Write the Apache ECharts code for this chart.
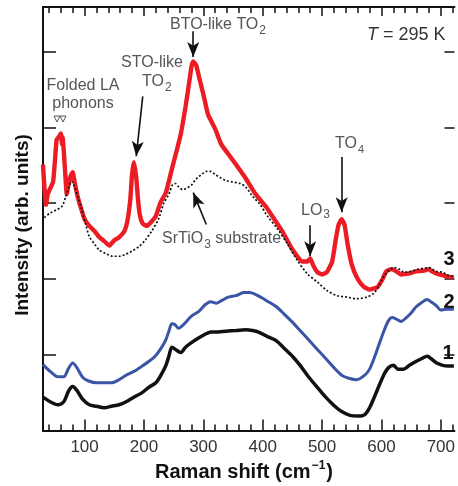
<!DOCTYPE html>
<html>
<head>
<meta charset="utf-8">
<script src="https://cdn.jsdelivr.net/npm/echarts@6/dist/echarts.min.js"></script>
<style>
  html, body { margin: 0; padding: 0; background: #fff; }
  #chart { width: 458px; height: 486px; }
</style>
</head>
<body>
<div id="chart"></div>
<script>
// Raman shift tick positions (cm^-1)
const majorTicks = [100, 200, 300, 400, 500, 600, 700];
const minorTicks = [40, 60, 80, 120, 140, 160, 180, 220, 240, 260, 280, 320, 340, 360, 380,
  420, 440, 460, 480, 520, 540, 560, 580, 620, 640, 660, 680, 720];
const intensityTicks = [100, 200, 300, 400, 500];

// Spectrum 3 (film, red), offset vertically
const film3Shift = [30, 32, 35, 38, 43, 47, 50, 53, 57, 60, 62, 63, 67, 70, 73, 77, 80, 83, 88, 93,
  100, 108, 117, 125, 133, 142, 150, 158, 167, 172, 177, 180, 183, 187, 190, 193, 198, 205, 213, 220,
  228, 237, 247, 255, 262, 270, 275, 280, 283, 288, 293, 300, 308, 320, 330, 342, 355, 372, 388, 405,
  422, 433, 450, 467, 475, 480, 485, 492, 500, 508, 517, 523, 528, 533, 538, 543, 550, 560, 570, 580,
  593, 602, 608, 617, 625, 633, 645, 658, 672, 680, 685, 693, 702, 712, 722];
const film3Counts = [351, 325, 298, 312, 321, 328, 355, 384, 388, 392, 378, 387, 345, 312, 325, 337, 341, 329, 310, 296,
  279, 270, 263, 255, 250, 244, 251, 255, 263, 276, 305, 338, 354, 334, 305, 285, 273, 270, 276, 283,
  301, 314, 345, 369, 391, 427, 453, 480, 487, 482, 466, 444, 417, 398, 378, 365, 351, 332, 312, 296,
  276, 263, 239, 223, 223, 227, 218, 209, 206, 209, 223, 252, 272, 279, 271, 246, 219, 200, 190, 186,
  189, 200, 210, 213, 210, 206, 207, 210, 211, 213, 210, 207, 205, 203, 202];

// SrTiO3 substrate reference (dotted)
const substrateShift = [32, 42, 52, 62, 68, 75, 78, 83, 88, 95, 102, 108, 117, 125, 137, 147, 158, 170, 180, 192,
  203, 213, 225, 233, 242, 248, 253, 258, 265, 272, 280, 288, 297, 305, 312, 320, 328, 338, 350, 362,
  372, 383, 395, 408, 425, 442, 458, 475, 492, 508, 525, 542, 558, 575, 587, 595, 603, 612, 622, 630,
  638, 650, 662, 672, 680, 692, 702, 712, 722];
const substrateCounts = [281, 287, 291, 296, 308, 324, 329, 322, 310, 292, 272, 256, 246, 238, 233, 230, 230, 233, 237, 243,
  252, 263, 280, 299, 312, 324, 326, 322, 318, 320, 324, 332, 338, 342, 342, 338, 334, 330, 328, 326,
  321, 309, 299, 283, 266, 246, 225, 207, 196, 185, 178, 176, 174, 176, 181, 190, 202, 211, 215, 213,
  209, 210, 213, 214, 215, 210, 209, 205, 203];

// Spectrum 2 (blue)
const film2Shift = [30, 42, 55, 65, 73, 80, 87, 97, 108, 120, 133, 145, 158, 170, 183, 197, 208, 220, 230, 237,
  242, 247, 252, 258, 267, 280, 292, 303, 312, 322, 332, 342, 355, 368, 378, 392, 405, 422, 437, 450,
  463, 477, 492, 505, 520, 533, 545, 558, 572, 580, 588, 597, 605, 612, 618, 625, 633, 642, 650, 658,
  668, 677, 683, 692, 700, 708, 722];
const film2Counts = [87, 78, 71, 71, 82, 89, 83, 70, 65, 63, 63, 63, 67, 73, 78, 85, 91, 99, 110, 120,
  131, 141, 140, 135, 140, 151, 157, 166, 170, 168, 172, 176, 178, 182, 182, 178, 172, 164, 153, 143,
  132, 120, 107, 96, 83, 73, 69, 67, 73, 81, 96, 116, 133, 145, 149, 147, 144, 149, 155, 163,
  169, 173, 170, 165, 159, 160, 160];

// Spectrum 1 (black)
const film1Shift = [30, 42, 55, 65, 73, 80, 87, 97, 108, 120, 133, 145, 158, 170, 183, 197, 208, 220, 230, 237,
  242, 247, 253, 262, 270, 280, 292, 303, 313, 325, 338, 355, 372, 383, 393, 408, 422, 437, 450, 463,
  477, 492, 505, 520, 533, 547, 560, 572, 580, 588, 597, 605, 612, 620, 628, 637, 647, 658, 668, 677,
  685, 693, 703, 712, 722];
const film1Counts = [44, 38, 34, 38, 52, 58, 53, 41, 34, 32, 30, 32, 34, 38, 44, 50, 57, 63, 75, 86,
  98, 110, 107, 103, 110, 116, 122, 127, 130, 130, 131, 132, 133, 132, 130, 124, 119, 108, 98, 86,
  71, 57, 45, 33, 25, 20, 19, 21, 30, 44, 61, 75, 83, 86, 81, 81, 86, 91, 95, 98,
  94, 89, 86, 85, 85];

// Arrows: [from, to] in (shift, intensity)
const arrows = [
  [[283, 527], [283, 493]],   // BTO-like TO2
  [[198, 441], [187, 362]],   // STO-like TO2
  [[533, 361], [533, 288]],   // TO4
  [[480, 271], [480, 230]],   // LO3
  [[305, 272], [283, 314]]    // substrate
];

const zip = (xs, ys) => xs.map((x, i) => [x, ys[i]]);

const X_MIN = 30, X_MAX = 723, Y_MIN = 0, Y_MAX = 559;
const axisColor = '#111';
const textGray = '#555';
const sans = 'Liberation Sans, Arial, sans-serif';

function xAxisDef(position, ticks, len, withLine, withLabels) {
  return {
    type: 'value', position: position, min: X_MIN, max: X_MAX,
    axisLine: { show: withLine, lineStyle: { color: axisColor, width: 2 } },
    axisTick: { show: true, inside: true, length: len, customValues: ticks,
      lineStyle: { color: axisColor, width: 1.5 } },
    axisLabel: withLabels ? {
      show: true, customValues: ticks, margin: 8,
      fontFamily: 'Liberation Sans Narrow, Liberation Sans, Arial, sans-serif',
      fontSize: 17, color: '#333'
    } : { show: false },
    splitLine: { show: false }
  };
}
function yAxisDef(position, len, withLine) {
  return {
    type: 'value', position: position, min: Y_MIN, max: Y_MAX,
    axisLine: { show: withLine, lineStyle: { color: axisColor, width: 2 } },
    axisTick: { show: true, inside: true, length: len, customValues: intensityTicks,
      lineStyle: { color: axisColor, width: 1.5 } },
    axisLabel: { show: false },
    splitLine: { show: false }
  };
}

const chart = echarts.init(document.getElementById('chart'), null, { renderer: 'canvas' });

const option = {
  backgroundColor: '#fff',
  animation: false,
  grid: { left: 43, top: 7, width: 416, height: 423.5, containLabel: false },
  xAxis: [
    xAxisDef('bottom', majorTicks, 11, true, true),
    xAxisDef('bottom', minorTicks, 6, false, false),
    xAxisDef('top', majorTicks, 9, true, false),
    xAxisDef('top', minorTicks, 6, false, false)
  ],
  yAxis: [yAxisDef('left', 13, true), yAxisDef('right', 10, false)],
  series: [
    {
      name: 'film 1', type: 'line', data: zip(film1Shift, film1Counts),
      showSymbol: false, smooth: 0.3, z: 3,
      lineStyle: { color: '#111', width: 3.5 }
    },
    {
      name: 'film 2', type: 'line', data: zip(film2Shift, film2Counts),
      showSymbol: false, smooth: 0.3, z: 3,
      lineStyle: { color: '#3b55a6', width: 3 }
    },
    {
      name: 'film 3', type: 'line', data: zip(film3Shift, film3Counts),
      showSymbol: false, smooth: 0.15, z: 3,
      lineStyle: { color: '#ec1c24', width: 4.4 }
    },
    {
      name: 'SrTiO3 substrate', type: 'line', data: zip(substrateShift, substrateCounts),
      showSymbol: false, smooth: 0.3, z: 4,
      lineStyle: { color: '#111', width: 1.7, type: [2, 2] },
      markLine: {
        silent: true, animation: false,
        label: { show: false },
        lineStyle: { color: '#111', width: 1.6, type: 'solid' },
        symbolSize: [9, 15],
        data: arrows.map(a => [
          { coord: a[0], symbol: 'none' },
          { coord: a[1], symbol: 'arrow' }
        ])
      }
    }
  ],
  graphic: [
    // annotation texts
    { type: 'text', style: { x: 83, y: 86, text: 'Folded LA', align: 'center', verticalAlign: 'middle',
      font: '16px ' + sans, fill: textGray } },
    { type: 'text', style: { x: 83, y: 104, text: 'phonons', align: 'center', verticalAlign: 'middle',
      font: '16px ' + sans, fill: textGray } },
    { type: 'polygon', shape: { points: [[54, 116], [60, 116], [57, 122]] }, style: { fill: 'none', stroke: textGray, lineWidth: 1 } },
    { type: 'polygon', shape: { points: [[60, 116], [66, 116], [63, 122]] }, style: { fill: 'none', stroke: textGray, lineWidth: 1 } },
    { type: 'text', style: { x: 152, y: 63, text: 'STO-like', align: 'center', verticalAlign: 'middle',
      font: '16px ' + sans, fill: textGray } },
    { type: 'text', style: { x: 142, y: 82, text: 'TO{s|2}', align: 'left', verticalAlign: 'middle',
      font: '16px ' + sans, fill: textGray,
      rich: { s: { fontSize: 12, fontFamily: sans, fill: textGray, padding: [12, 0, 0, 1] } } } },
    { type: 'text', style: { x: 170, y: 25, text: 'BTO-like TO{s|2}', align: 'left', verticalAlign: 'middle',
      font: '16px ' + sans, fill: textGray,
      rich: { s: { fontSize: 12, fontFamily: sans, fill: textGray, padding: [12, 0, 0, 1] } } } },
    { type: 'text', style: { x: 367, y: 35, text: '{i|T} = 295 K', align: 'left', verticalAlign: 'middle',
      font: '18px ' + sans, fill: '#333',
      rich: { i: { fontStyle: 'italic', fontSize: 18, fontFamily: sans, fill: '#333' } } } },
    { type: 'text', style: { x: 335, y: 144, text: 'TO{s|4}', align: 'left', verticalAlign: 'middle',
      font: '16px ' + sans, fill: textGray,
      rich: { s: { fontSize: 11, fontFamily: sans, fill: textGray, padding: [12, 0, 0, 1] } } } },
    { type: 'text', style: { x: 301, y: 211, text: 'LO{s|3}', align: 'left', verticalAlign: 'middle',
      font: '16px ' + sans, fill: textGray,
      rich: { s: { fontSize: 12, fontFamily: sans, fill: textGray, padding: [8, 0, 0, 1] } } } },
    { type: 'text', style: { x: 162, y: 239, text: 'SrTiO{s|3} substrate', align: 'left', verticalAlign: 'middle',
      font: '16px ' + sans, fill: textGray,
      rich: { s: { fontSize: 12, fontFamily: sans, fill: textGray, padding: [12, 0, 0, 1] } } } },
    // curve numbers
    { type: 'text', style: { x: 449, y: 259, text: '3', align: 'center', verticalAlign: 'middle',
      font: 'bold 20px ' + sans, fill: '#111' } },
    { type: 'text', style: { x: 449, y: 302, text: '2', align: 'center', verticalAlign: 'middle',
      font: 'bold 20px ' + sans, fill: '#111' } },
    { type: 'text', style: { x: 448, y: 353, text: '1', align: 'center', verticalAlign: 'middle',
      font: 'bold 20px ' + sans, fill: '#111' } },
    // axis titles
    { type: 'text', x: 23, y: 225, rotation: Math.PI / 2,
      style: { x: 0, y: 0, text: 'Intensity (arb. units)', align: 'center', verticalAlign: 'middle',
        font: 'bold 19px ' + sans, fill: '#111' } },
    { type: 'text', style: { x: 244, y: 472, text: 'Raman shift (cm{p|−1})', align: 'center', verticalAlign: 'middle',
      font: 'bold 20px ' + sans, fill: '#111',
      rich: { p: { fontSize: 12, fontWeight: 'bold', fontFamily: sans, fill: '#111', padding: [0, 1, 12, 1] } } } }
  ]
};

chart.setOption(option);
</script>
</body>
</html>
